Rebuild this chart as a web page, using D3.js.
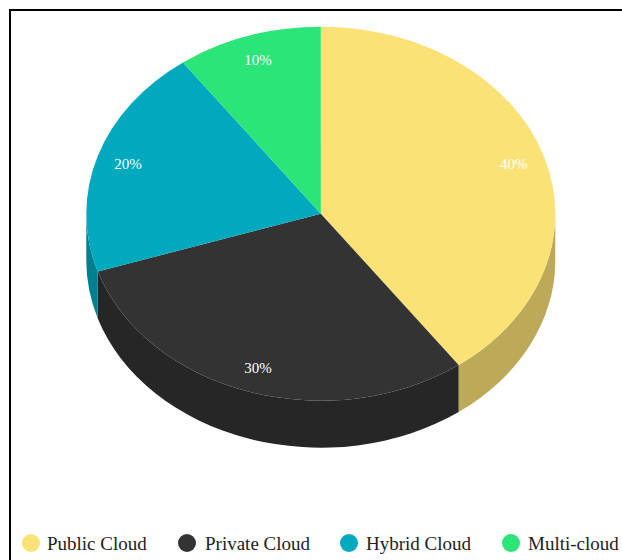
<!DOCTYPE html>
<html>
<head>
<meta charset="utf-8">
<style>
  html, body { margin: 0; padding: 0; background: #fff; overflow: hidden; }
  svg { display: block; }
  text { font-family: "Liberation Serif", serif; }
</style>
<script src="https://cdn.jsdelivr.net/npm/d3@7"></script>
</head>
<body>
<svg id="chart" width="622" height="560"></svg>
<script>
const categories = ["Public Cloud", "Private Cloud", "Hybrid Cloud", "Multi-cloud"];
const shares = [40, 30, 20, 10];
const topColors = ["#fbe276", "#333333", "#00a9bd", "#2ce578"];
const sideColors = ["#bdaa59", "#262626", "#007f8e", "#21ac5a"];
const legendDotX = [31, 187, 349, 511];
const legendTextX = [47, 205, 366, 528];

const cx = 320.8, cy = 213.7, rx = 234.5, ry = 187, depth = 47;

const svg = d3.select("#chart");

// Page frame: top and left rules only
svg.append("rect").attr("x", 9).attr("y", 9).attr("width", 613).attr("height", 2).attr("fill", "#000");
svg.append("rect").attr("x", 9).attr("y", 9).attr("width", 2).attr("height", 551).attr("fill", "#000");

const slices = d3.pie().sort(null).value(d => d)(shares);

// Clock angle (0 = up, clockwise) onto the tilted rim
const rimX = d3.scaleLinear().domain([-1, 1]).range([cx - rx, cx + rx]);
const rimY = d3.scaleLinear().domain([-1, 1]).range([cy - ry, cy + ry]);
const px = (a, k = 1) => rimX(Math.sin(a) * k);
const py = (a, k = 1) => rimY(-Math.cos(a) * k);

// Outer wall: only the front half of the rim, from 90deg to 270deg, is visible
const wallPath = (start, end) => {
  const a = Math.max(start, Math.PI / 2), b = Math.min(end, 3 * Math.PI / 2);
  if (b <= a) return null;
  return `M${px(a)},${py(a)}` +
    `A${rx},${ry} 0 0 1 ${px(b)},${py(b)}` +
    `L${px(b)},${py(b) + depth}` +
    `A${rx},${ry} 0 0 0 ${px(a)},${py(a) + depth}Z`;
};

svg.append("g").selectAll("path")
  .data(slices)
  .join("path")
  .attr("d", d => wallPath(d.startAngle, d.endAngle))
  .attr("fill", (d, i) => sideColors[i]);

// Top face: a circular arc squashed to the tilt of the disc
const arc = d3.arc().innerRadius(0).outerRadius(rx);
svg.append("g")
  .attr("transform", `translate(${cx},${cy}) scale(1,${ry / rx})`)
  .selectAll("path")
  .data(slices)
  .join("path")
  .attr("d", arc)
  .attr("fill", (d, i) => topColors[i]);

// Percentage labels
svg.append("g").selectAll("text")
  .data(slices)
  .join("text")
  .attr("x", d => px((d.startAngle + d.endAngle) / 2, 0.865))
  .attr("y", d => py((d.startAngle + d.endAngle) / 2, 0.865) + 5)
  .attr("text-anchor", "middle")
  .attr("font-size", 15)
  .attr("fill", "#fff")
  .text(d => d.value + "%");

// Legend row
const legend = svg.append("g").selectAll("g")
  .data(categories)
  .join("g");
legend.append("circle")
  .attr("cx", (d, i) => legendDotX[i])
  .attr("cy", 543)
  .attr("r", 9)
  .attr("fill", (d, i) => topColors[i]);
legend.append("text")
  .attr("x", (d, i) => legendTextX[i])
  .attr("y", 550)
  .attr("font-size", 19)
  .attr("fill", "#222")
  .text(d => d);
</script>
</body>
</html>
